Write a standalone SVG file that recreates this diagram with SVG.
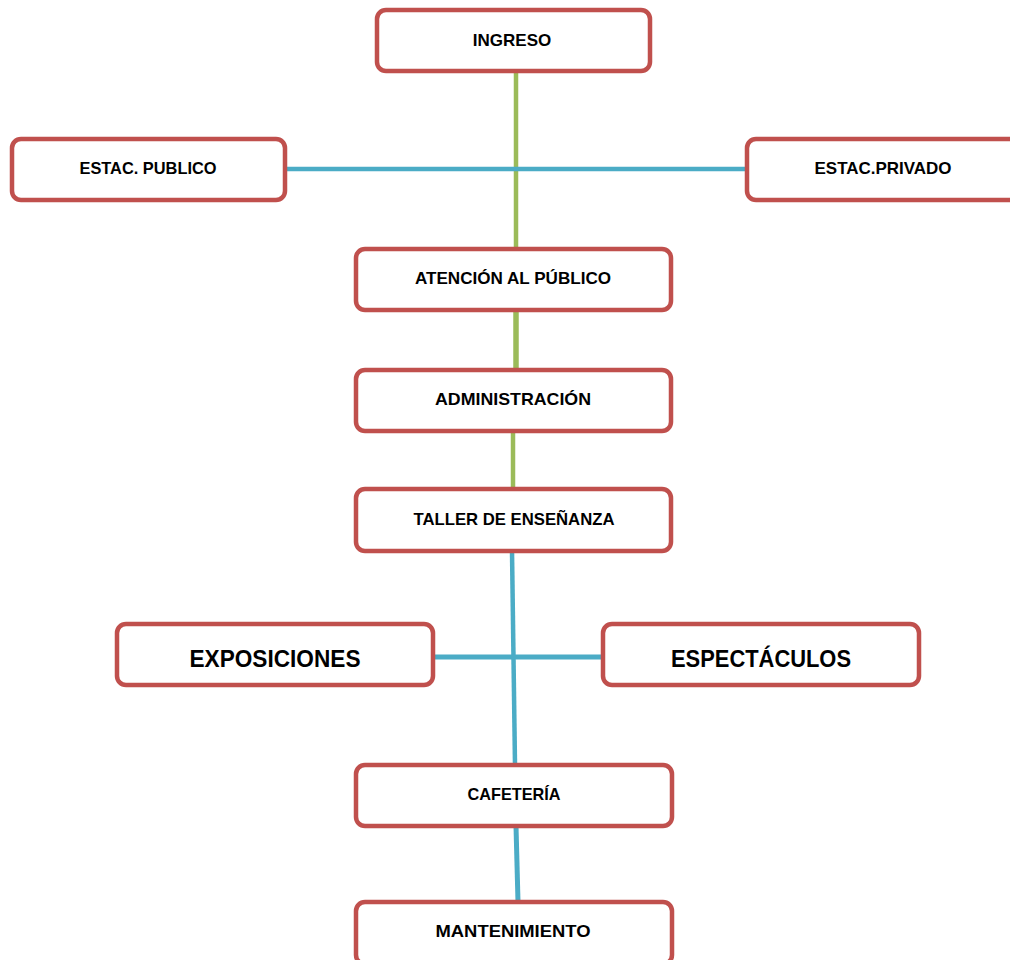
<svg xmlns="http://www.w3.org/2000/svg" width="1010" height="960" viewBox="0 0 1010 960">
<style>
.box{fill:#fff;stroke:#C0504D;stroke-width:4.5}
.t{font-family:"Liberation Sans",Arial,sans-serif;font-weight:bold;font-size:17px;fill:#000;text-anchor:middle}
.big{font-size:24px}
.g{stroke:#9BBB59;stroke-width:4.5;fill:none}
.b{stroke:#4BACC6;stroke-width:4.5;fill:none}
</style>
<rect width="1010" height="960" fill="#fff"/>
<g id="connectors">
<line class="g" x1="516" y1="71" x2="516" y2="249"/>
<line class="b" x1="287" y1="169" x2="746" y2="169"/>
<line class="g" x1="516" y1="310" x2="516" y2="370" style="stroke-width:5.5"/>
<line class="g" x1="513" y1="431" x2="513" y2="489"/>
<line class="b" x1="512" y1="551" x2="515" y2="765"/>
<line class="b" x1="434" y1="657" x2="602" y2="657" style="stroke-width:5"/>
<line class="b" x1="516" y1="826" x2="518" y2="902" style="stroke-width:5"/>
</g>
<g id="ingreso"><rect class="box" x="377" y="10" width="273" height="61" rx="9"/><text class="t" x="512" y="46">INGRESO</text></g>
<g id="estac-publico"><rect class="box" x="12" y="139" width="273" height="61" rx="9"/><text class="t" x="148" y="174" textLength="137" lengthAdjust="spacingAndGlyphs">ESTAC. PUBLICO</text></g>
<g id="estac-privado"><rect class="box" x="747" y="139" width="290" height="61" rx="9"/><text class="t" x="883" y="174" textLength="137" lengthAdjust="spacingAndGlyphs">ESTAC.PRIVADO</text></g>
<g id="atencion"><rect class="box" x="356" y="249" width="315" height="61" rx="9"/><text class="t" x="513" y="284" textLength="196" lengthAdjust="spacingAndGlyphs">ATENCIÓN AL PÚBLICO</text></g>
<g id="administracion"><rect class="box" x="356" y="370" width="315" height="61" rx="9"/><text class="t" x="513" y="405" textLength="156" lengthAdjust="spacingAndGlyphs">ADMINISTRACIÓN</text></g>
<g id="taller"><rect class="box" x="356" y="489" width="315" height="62" rx="9"/><text class="t" x="514" y="525" textLength="201" lengthAdjust="spacingAndGlyphs">TALLER DE ENSEÑANZA</text></g>
<g id="exposiciones"><rect class="box" x="117" y="624" width="316" height="61" rx="9"/><text class="t big" x="275" y="667" textLength="171" lengthAdjust="spacingAndGlyphs">EXPOSICIONES</text></g>
<g id="espectaculos"><rect class="box" x="603" y="624" width="316" height="61" rx="9"/><text class="t big" x="761" y="667" textLength="180" lengthAdjust="spacingAndGlyphs">ESPECTÁCULOS</text></g>
<g id="cafeteria"><rect class="box" x="356" y="765" width="316" height="61" rx="9"/><text class="t" x="514" y="800" textLength="93" lengthAdjust="spacingAndGlyphs">CAFETERÍA</text></g>
<g id="mantenimiento"><rect class="box" x="356" y="902" width="316" height="62" rx="9"/><text class="t" x="513" y="937" textLength="155" lengthAdjust="spacingAndGlyphs">MANTENIMIENTO</text></g>
</svg>
